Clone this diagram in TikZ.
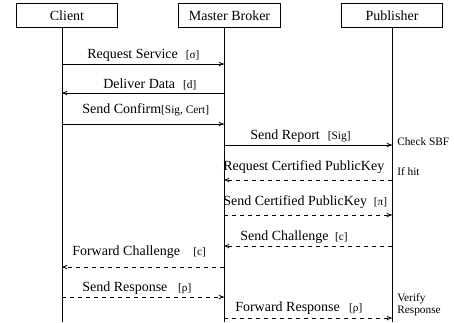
\documentclass[tikz,border=0pt]{standalone}
\usepackage{fontspec}
\setmainfont{Liberation Serif}
\usetikzlibrary{arrows.meta}
\newcommand{\tagtxt}[1]{{\fontsize{8.5}{10}\selectfont[#1]}}
\begin{document}
\begin{tikzpicture}[x=0.75pt,y=-0.75pt,
    font=\fontsize{10.5}{12}\selectfont,
    actor/.style={draw,line width=0.6pt,minimum width=76pt,minimum height=18.5pt,inner sep=0pt},
    msg/.style={-{To[length=4pt,width=3.5pt]},line width=0.6pt},
    reply/.style={msg,dashed},
    lbl/.style={anchor=west,inner sep=0pt},
    note/.style={anchor=west,inner sep=0pt,font=\fontsize{8.5}{10}\selectfont,align=left}]
  \useasboundingbox (0,0) rectangle (454,322);
  % parties
  \node[actor] at (67,15.5) (client) {Client};
  \node[actor] at (229.5,15.5) (broker) {Master Broker};
  \node[actor] at (392,15.5) (publisher) {Publisher};
  % lifelines
  \coordinate (cl) at (62,322);
  \coordinate (bl) at (224,322);
  \coordinate (pl) at (392,322);
  \draw[line width=0.6pt] (client.south -| cl) -- (cl);
  \draw[line width=0.6pt] (broker.south -| bl) -- (bl);
  \draw[line width=0.6pt] (publisher.south -| pl) -- (pl);
  % messages
  \path[msg] (cl |- 0,64) edge (bl |- 0,64);
  \node[lbl] at (87,55) (m1) {Request Service\hspace{6pt}\tagtxt{σ}};
  \path[msg] (bl |- 0,93) edge (cl |- 0,93);
  \node[lbl] at (103,84) (m2) {Deliver Data\hspace{6pt}\tagtxt{d}};
  \path[msg] (cl |- 0,124) edge (bl |- 0,124);
  \node[lbl] at (82,110) (m3) {Send Confirm\tagtxt{Sig, Cert}};
  \path[msg] (bl |- 0,145) edge (pl |- 0,145);
  \node[lbl] at (250,136) (m4) {Send Report\hspace{6pt}\tagtxt{Sig}};
  \path[reply] (pl |- 0,180) edge (bl |- 0,180);
  \node[lbl] at (223,167) (m5) {Request Certified PublicKey};
  \path[reply] (bl |- 0,215) edge (pl |- 0,215);
  \node[lbl] at (223,202) (m6) {Send Certified PublicKey\hspace{5pt}\tagtxt{π}};
  \path[reply] (pl |- 0,246) edge (bl |- 0,246);
  \node[lbl] at (240,237) (m7) {Send Challenge\hspace{5pt}\tagtxt{c}};
  \path[reply] (bl |- 0,267) edge (cl |- 0,267);
  \node[lbl] at (72,252) (m8) {Forward Challenge\hspace{10pt}\tagtxt{c}};
  \path[reply] (cl |- 0,297) edge (bl |- 0,297);
  \node[lbl] at (82,288) (m9) {Send Response\hspace{8pt}\tagtxt{ρ}};
  \path[reply] (bl |- 0,318) edge (pl |- 0,318);
  \node[lbl] at (235,308) (m10) {Forward Response\hspace{7pt}\tagtxt{ρ}};
  % notes at the publisher
  \node[note] at (397,142) (n1) {Check SBF};
  \node[note] at (397,172) (n2) {If hit};
  \node[note] at (397,305) (n3) {Verify\\[-1pt]Response};
\end{tikzpicture}
\end{document}
